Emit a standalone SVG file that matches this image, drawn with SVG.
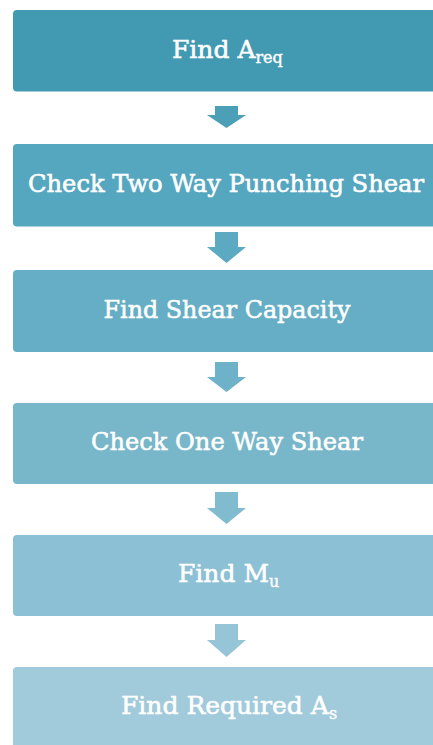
<svg xmlns="http://www.w3.org/2000/svg" width="433" height="745" viewBox="0 0 433 745">
  <style>
    .label { font-family: "DejaVu Serif", "Liberation Serif", serif; font-size: 25px; fill: #ffffff; stroke: #ffffff; stroke-width: 0.55px; }
    .narrow { font-family: "DejaVu Serif Condensed", "DejaVu Serif", "Liberation Serif", serif; }
    .mid { text-anchor: middle; }
    .sub { font-size: 16px; stroke-width: 0.4px; }
  </style>
  <rect width="433" height="745" fill="#ffffff"/>

  <!-- each step: panel with rounded left corners, running off the right edge -->
  <g id="step-1">
    <path d="M17,10 H433 V91.5 H17 A4,4 0 0 1 13,87.5 V14 A4,4 0 0 1 17,10 Z" fill="#4299B2"/>
    <text class="label" x="172" y="57.5">Find A<tspan class="sub" dy="5">req</tspan></text>
  </g>
  <g id="step-2">
    <path d="M17,144 H433 V226.5 H17 A4,4 0 0 1 13,222.5 V148 A4,4 0 0 1 17,144 Z" fill="#55A6BF"/>
    <text class="label narrow mid" x="226" y="191.5" textLength="396" lengthAdjust="spacingAndGlyphs">Check Two Way Punching Shear</text>
  </g>
  <g id="step-3">
    <path d="M17,270 H433 V352 H17 A4,4 0 0 1 13,348 V274 A4,4 0 0 1 17,270 Z" fill="#66AEC5"/>
    <text class="label mid" x="227" y="317.5" textLength="247" lengthAdjust="spacingAndGlyphs">Find Shear Capacity</text>
  </g>
  <g id="step-4">
    <path d="M17,403 H433 V484 H17 A4,4 0 0 1 13,480 V407 A4,4 0 0 1 17,403 Z" fill="#78B6CA"/>
    <text class="label mid" x="227" y="450" textLength="272" lengthAdjust="spacingAndGlyphs">Check One Way Shear</text>
  </g>
  <g id="step-5">
    <path d="M17,535 H433 V616 H17 A4,4 0 0 1 13,612 V539 A4,4 0 0 1 17,535 Z" fill="#8CC0D4"/>
    <text class="label" x="178" y="582">Find M<tspan class="sub" dy="5">u</tspan></text>
  </g>
  <g id="step-6">
    <path d="M17,667 H433 V745 H13 V671 A4,4 0 0 1 17,667 Z" fill="#A1CADB"/>
    <text class="label" x="121" y="713.5">Find Required A<tspan class="sub" dy="5">s</tspan></text>
  </g>

  <g id="connectors">
    <polygon points="215,106 238,106 238,115 246,115 226.5,128 207,115 215,115" fill="#4BA0B8"/>
    <polygon points="215,232 238,232 238,247 246,247 226.5,263 207,247 215,247" fill="#5BAAC2"/>
    <polygon points="215,362 238,362 238,377 246,377 226.5,392 207,377 215,377" fill="#6DB2C8"/>
    <polygon points="215,492 238,492 238,508 246,508 226.5,524 207,508 215,508" fill="#80BBCF"/>
    <polygon points="215,624 238,624 238,640 246,640 226.5,657 207,640 215,640" fill="#96C5D7"/>
  </g>
</svg>
